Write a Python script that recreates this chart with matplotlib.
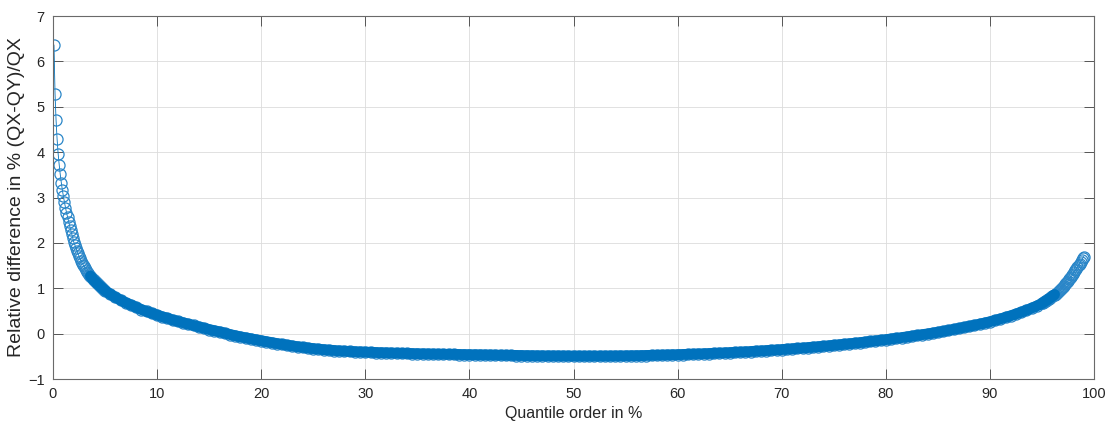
import matplotlib
matplotlib.use("Agg")
import matplotlib.pyplot as plt
import numpy as np

# quantile orders (%) -- fine steps at the tails, coarser in the flat middle
q_left = [0.1, 0.2, 0.3, 0.4, 0.5, 0.6, 0.7, 0.8, 0.9, 1.0,
          1.1, 1.2, 1.3, 1.4, 1.5, 1.6, 1.7, 1.8, 1.9, 2.0,
          2.1, 2.2, 2.3, 2.4, 2.5, 2.6, 2.7, 2.8, 2.9, 3.0,
          3.1, 3.2, 3.3, 3.4, 3.5, 3.6, 3.7, 3.8, 3.9, 4.0,
          4.1, 4.2, 4.3, 4.4, 4.5, 4.6, 4.7, 4.8, 4.9, 5.0]
d_left = [6.36, 5.29, 4.70, 4.28, 3.96, 3.72, 3.51, 3.33, 3.17, 3.03,
          2.90, 2.78, 2.67, 2.57, 2.47, 2.38, 2.29, 2.20, 2.11, 2.02,
          1.96, 1.89, 1.83, 1.77, 1.71, 1.66, 1.61, 1.56, 1.52, 1.48,
          1.44, 1.40, 1.36, 1.33, 1.30, 1.27, 1.24, 1.21, 1.18, 1.16,
          1.14, 1.11, 1.09, 1.07, 1.05, 1.03, 1.01, 0.99, 0.97, 0.95]

q_mid = [5.5, 6.0, 6.5, 7.0, 7.5, 8.0, 8.5, 9.0, 9.5, 10.0,
         10.5, 11.0, 11.5, 12.0, 12.5, 13.0, 13.5, 14.0, 14.5, 15.0,
         15.5, 16.0, 16.5, 17.0, 17.5, 18.0, 18.5, 19.0, 19.5, 20.0,
         20.5, 21.0, 21.5, 22.0, 22.5, 23.0, 23.5, 24.0, 24.5, 25.0,
         25.5, 26.0, 26.5, 27.0, 27.5, 28.0, 28.5, 29.0, 29.5, 30.0,
         30.5, 31.0, 31.5, 32.0, 32.5, 33.0, 33.5, 34.0, 34.5, 35.0,
         35.5, 36.0, 36.5, 37.0, 37.5, 38.0, 38.5, 39.0, 39.5, 40.0,
         40.5, 41.0, 41.5, 42.0, 42.5, 43.0, 43.5, 44.0, 44.5, 45.0,
         45.5, 46.0, 46.5, 47.0, 47.5, 48.0, 48.5, 49.0, 49.5, 50.0,
         50.5, 51.0, 51.5, 52.0, 52.5, 53.0, 53.5, 54.0, 54.5, 55.0,
         55.5, 56.0, 56.5, 57.0, 57.5, 58.0, 58.5, 59.0, 59.5, 60.0,
         60.5, 61.0, 61.5, 62.0, 62.5, 63.0, 63.5, 64.0, 64.5, 65.0,
         65.5, 66.0, 66.5, 67.0, 67.5, 68.0, 68.5, 69.0, 69.5, 70.0,
         70.5, 71.0, 71.5, 72.0, 72.5, 73.0, 73.5, 74.0, 74.5, 75.0,
         75.5, 76.0, 76.5, 77.0, 77.5, 78.0, 78.5, 79.0, 79.5, 80.0,
         80.5, 81.0, 81.5, 82.0, 82.5, 83.0, 83.5, 84.0, 84.5, 85.0,
         85.5, 86.0, 86.5, 87.0, 87.5, 88.0, 88.5, 89.0, 89.5, 90.0,
         90.5, 91.0, 91.5, 92.0, 92.5, 93.0, 93.5, 94.0, 94.5, 95.0]
d_mid = [0.87, 0.80, 0.74, 0.68, 0.63, 0.58, 0.53, 0.49, 0.45, 0.41,
         0.37, 0.34, 0.30, 0.27, 0.24, 0.21, 0.18, 0.15, 0.12, 0.09,
         0.065, 0.04, 0.01, -0.02, -0.045, -0.07, -0.092, -0.115, -0.135, -0.155,
         -0.177, -0.198, -0.218, -0.237, -0.255, -0.272, -0.288, -0.303, -0.317, -0.330,
         -0.342, -0.353, -0.363, -0.372, -0.380, -0.387, -0.393, -0.398, -0.403, -0.408,
         -0.412, -0.416, -0.420, -0.424, -0.428, -0.431, -0.434, -0.437, -0.440, -0.443,
         -0.446, -0.448, -0.450, -0.452, -0.454, -0.456, -0.458, -0.460, -0.462, -0.464,
         -0.466, -0.468, -0.470, -0.472, -0.474, -0.476, -0.478, -0.480, -0.482, -0.484,
         -0.486, -0.487, -0.488, -0.489, -0.490, -0.491, -0.492, -0.493, -0.494, -0.495,
         -0.495, -0.495, -0.495, -0.495, -0.495, -0.494, -0.493, -0.492, -0.491, -0.490,
         -0.488, -0.486, -0.484, -0.482, -0.479, -0.476, -0.473, -0.470, -0.467, -0.464,
         -0.460, -0.456, -0.452, -0.448, -0.444, -0.439, -0.434, -0.429, -0.424, -0.419,
         -0.413, -0.407, -0.401, -0.395, -0.388, -0.381, -0.374, -0.367, -0.359, -0.351,
         -0.343, -0.335, -0.326, -0.317, -0.308, -0.298, -0.288, -0.278, -0.268, -0.257,
         -0.246, -0.235, -0.223, -0.211, -0.199, -0.186, -0.173, -0.160, -0.146, -0.132,
         -0.118, -0.103, -0.088, -0.072, -0.056, -0.040, -0.023, -0.006, 0.012, 0.030,
         0.050, 0.071, 0.092, 0.114, 0.137, 0.160, 0.184, 0.209, 0.235, 0.262,
         0.292, 0.324, 0.358, 0.394, 0.432, 0.472, 0.515, 0.561, 0.610, 0.665]

q_right = [95.1, 95.2, 95.3, 95.4, 95.5, 95.6, 95.7, 95.8, 95.9, 96.0,
           96.1, 96.2, 96.3, 96.4, 96.5, 96.6, 96.7, 96.8, 96.9, 97.0,
           97.1, 97.2, 97.3, 97.4, 97.5, 97.6, 97.7, 97.8, 97.9, 98.0,
           98.1, 98.2, 98.3, 98.4, 98.5, 98.6, 98.7, 98.8, 98.9, 99.0]
d_right = [0.683, 0.697, 0.711, 0.726, 0.741, 0.757, 0.773, 0.790, 0.807, 0.825,
           0.843, 0.862, 0.882, 0.902, 0.923, 0.944, 0.966, 0.989, 1.012, 1.036,
           1.061, 1.087, 1.113, 1.140, 1.168, 1.197, 1.227, 1.258, 1.290, 1.323,
           1.357, 1.392, 1.428, 1.465, 1.503, 1.542, 1.582, 1.623, 1.665, 1.700]

x_ticks = [0, 10, 20, 30, 40, 50, 60, 70, 80, 90, 100]
y_ticks = [-1, 0, 1, 2, 3, 4, 5, 6, 7]

BLUE = "#0072BD"
AX_COLOR = "#262626"

plt.rcParams["font.family"] = ["Liberation Sans", "DejaVu Sans"]

q = q_left + q_mid + q_right
d = d_left + d_mid + d_right

fig = plt.figure(figsize=(11.1, 4.26), dpi=100)
ax = fig.add_axes([0.0477, 0.1103, 0.938, 0.852])

ax.plot(q, d, "-o", color=BLUE, linewidth=0.6, markersize=8,
        markerfacecolor="none", markeredgecolor="#2a86c8", markeredgewidth=0.9,
        zorder=2)

# where the curve is flat the overlapping circles merge into a solid band
band_q = q_left[-15:] + q_mid + q_right[:12]
band_d = d_left[-15:] + d_mid + d_right[:12]
ax.plot(band_q, band_d, color=BLUE, linewidth=7.8, solid_capstyle="round",
        zorder=3)

ax.set_xlim(0, 100)
ax.set_ylim(-1, 7)
ax.set_xticks(x_ticks)
ax.set_yticks(y_ticks)
ax.grid(True, color="#DCDCDC", linewidth=0.6)
ax.set_axisbelow(True)
ax.tick_params(direction="in", length=7, width=0.7, top=True, right=True,
               colors="#555555", labelcolor=AX_COLOR, labelsize=10.5, pad=6)
for s in ax.spines.values():
    s.set_color("#6a6a6a")
    s.set_linewidth(0.8)

ax.set_xlabel("Quantile order in %", fontsize=11.5, color=AX_COLOR, labelpad=3)
ax.set_ylabel("Relative difference in % (QX-QY)/QX", fontsize=14, color=AX_COLOR, labelpad=2)

fig.savefig("out.png", dpi=100)
